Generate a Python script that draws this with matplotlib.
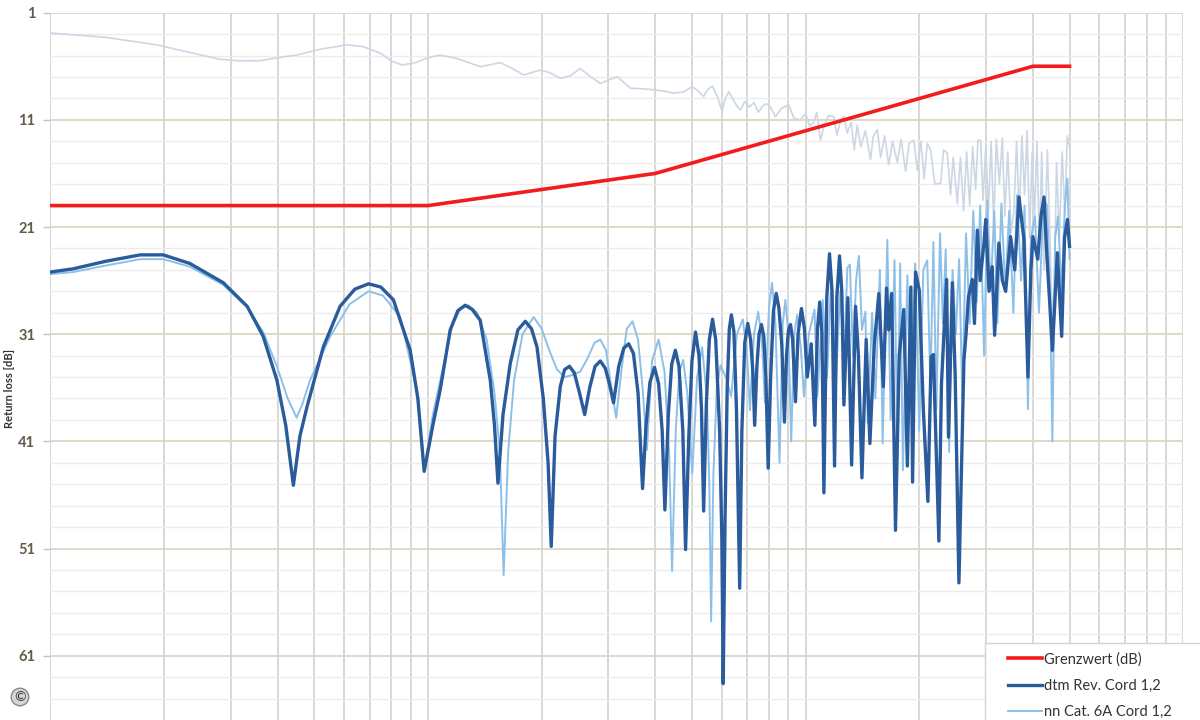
import matplotlib
matplotlib.use("Agg")
import matplotlib.pyplot as plt
from matplotlib.lines import Line2D
from matplotlib.patches import Rectangle

plt.rcParams['font.family'] = ['Lato', 'DejaVu Sans']

# Grenzwert (limit line), breakpoints in MHz / dB
limit_f = [1, 10, 40, 400, 500]
limit_db = [19, 19, 16, 6, 6]

# dtm Rev. Cord 1,2
dtm_f = [1.0, 1.15, 1.4, 1.73, 1.99, 2.34, 2.87, 3.32, 3.66, 3.98, 4.2, 4.4, 4.58, 4.78, 5.28, 5.85, 6.4, 6.96, 7.5, 8.1, 8.97, 9.4, 9.77,
         10.3, 10.77, 11.45, 12.0, 12.55, 13.1, 13.75, 14.62, 15.0, 15.32,
         15.8, 16.52, 17.3, 18.1, 18.8, 19.44, 20.2, 20.8, 21.2,
         21.7, 22.4, 23.0, 23.7, 24.4, 25.2, 26.0,
         26.8, 27.7, 28.6, 29.5, 30.3, 31.0,
         32.0, 33.0, 34.0, 35.0, 36.0, 37.0,
         37.8, 38.7, 39.8, 40.8, 41.7, 42.4,
         43.3, 44.2, 45.2, 46.2, 47.3, 48.1,
         49.0, 50.0, 51.1, 52.2, 53.0, 53.7,
         54.6, 55.6, 56.7, 57.8, 59.2, 60.0, 60.5,
         61.2, 62.0, 62.8, 63.6, 64.6, 65.6, 66.9,
         67.8, 69.0, 70.3, 71.5, 72.5, 73.3,
         74.3, 75.3, 76.4, 77.5, 78.5, 79.6,
         80.8, 82.2, 83.6, 85.0, 86.5, 87.9,
         89.0, 90.1, 91.2, 92.4, 94.0,
         95.5, 97.5, 99.3, 101, 103.5, 105.8, 107.5, 109, 110.5, 111.8, 113.8, 115.7, 117.5, 119.3,
         121, 123, 124.7, 126.3, 129.4, 132.4, 135.6, 138, 141, 144.7, 148, 152, 156.3, 160.6, 163.8,
         166, 169, 173, 177, 182, 186, 190, 192, 195.6, 200, 205, 210.8, 215, 218, 225.4, 229, 236.3,
         239, 244.7, 249, 254.7, 262.6, 266, 270, 276.4, 280, 285, 290, 296.7, 300, 306, 312, 316.7,
         325, 332, 338.7, 349, 358, 367.4, 378.7, 388, 395, 400, 412, 420, 427.9, 436, 443, 450.3,
         464.3, 476.6, 485, 493.6, 500]
dtm_db = [25.2, 24.9, 24.2, 23.6, 23.6, 24.4, 26.2, 28.4, 31.2, 35.3, 39.5, 45.1, 40.5, 37.8, 32.2, 28.4, 26.8, 26.3, 26.6, 27.8, 32.5, 37.0, 43.8,
          39.5, 36.2, 30.6, 28.8, 28.3, 28.7, 29.7, 35.3, 39.5, 44.9,
          38.5, 33.7, 30.6, 29.8, 30.5, 32.2, 37.0, 43.0, 50.8,
          40.5, 35.9, 34.3, 34.0, 34.6, 36.5, 38.5,
          36.0, 34.0, 33.5, 34.2, 35.8, 37.4,
          34.0, 32.3, 31.9, 32.8, 36.5, 45.4,
          39.5, 35.5, 34.1, 35.6, 40.0, 47.4,
          38.5, 33.8, 32.5, 34.0, 40.0, 51.1,
          41.0, 33.5, 30.8, 33.0, 38.0, 47.5,
          37.5, 31.5, 29.6, 31.5, 40.0, 50.0, 63.6,
          48.0, 36.0, 30.5, 29.2, 30.8, 38.0, 54.7,
          40.0, 31.8, 30.0, 31.5, 34.5, 39.5,
          34.0, 31.0, 30.1, 31.2, 35.0, 43.5,
          35.0, 28.8, 27.2, 28.6, 32.0, 39.2,
          33.0, 30.6, 30.1, 31.5, 37.3,
          31.0, 28.6, 30.5, 35.0, 31.9, 39.5, 30.5, 28.0, 31.0, 45.8, 27.5, 23.5, 27.0, 43.3,
          27.5, 23.7, 27.0, 37.6, 27.6, 43.2, 28.4, 33.0, 44.4, 31.5, 41.2, 32.0, 27.2, 35.9, 26.7,
          30.6, 27.2, 49.3, 33.0, 28.7, 43.3, 26.6, 44.8, 25.2, 26.9, 38.0, 46.6, 33.1, 32.9, 50.3, 35.6, 25.9,
          40.6, 26.2, 35.0, 54.2, 33.4, 31.0, 27.5, 25.9, 30.0, 21.3, 26.0, 22.5, 20.3, 27.0, 24.7, 31.1,
          22.5, 26.0, 27.0, 21.9, 25.0, 18.2, 22.2, 35.0, 25.0, 21.9, 24.0, 20.0, 18.2, 24.0, 28.0, 32.5,
          23.4, 31.2, 22.0, 20.3, 22.8]

# nn Cat. 6A Cord 1,2
nn_f = [1.0, 1.15, 1.4, 1.73, 1.99, 2.34, 2.87, 3.32, 3.66, 3.98, 4.25, 4.49, 4.65, 4.87, 5.51, 6.2, 6.96, 7.6, 8.44, 9.34, 9.77,
        10.3, 10.9, 11.6, 12.2, 12.8, 13.5, 14.3, 15.0, 15.5, 15.86, 16.3, 16.9, 17.8, 19.04, 20.0, 21.0, 21.96,
        23.0, 24.2, 25.3, 26.5, 27.6, 28.6, 29.6, 30.6, 31.5, 32.5, 33.6, 34.8, 36.0, 37.0, 38.0, 39.2, 40.8,
        42.3, 43.5, 44.3, 45.3, 46.3, 47.4, 48.6, 50.1, 51.6, 53.2, 54.8, 55.6, 56.2, 57.0, 58.2, 59.5, 61.5,
        63.5, 65.8, 68.2, 70.0, 71.2, 73.0, 74.9, 76.6, 78.0, 80.0, 81.5, 83.2, 85.3, 87.0, 88.4, 90.0, 91.6,
        93.3, 95.0, 97, 99.0, 102, 105.6, 107.5, 111, 114, 117, 120, 123.5, 126.5, 129, 131, 133.5, 136, 138.4,
        141, 144, 146, 150, 153, 157.3, 160, 164.6, 168, 172, 175, 178, 181, 186, 190, 195, 200, 205, 210, 214,
        218, 222, 227, 231, 235, 240, 245, 250, 255, 260, 266, 272, 278, 284, 290, 297, 303, 309, 316, 322, 330,
        338, 346, 355, 363, 372, 380, 388, 395, 405, 415, 427, 436, 444, 450.3, 458, 466, 476.6, 486, 493.6, 500]
nn_db = [25.4, 25.2, 24.6, 24.0, 24.0, 24.7, 26.4, 28.5, 30.8, 34.0, 37.0, 38.8, 37.5, 35.3, 31.2, 28.2, 27.0, 27.4, 29.4, 36.2, 43.7,
         38.5, 34.5, 30.2, 28.6, 28.3, 29.0, 31.5, 36.5, 42.0, 53.5, 42.0, 35.3, 31.0, 29.4, 30.5, 32.6, 34.3,
         35.0, 34.8, 34.5, 33.2, 31.8, 31.5, 32.5, 36.0, 38.8, 34.5, 30.5, 29.8, 31.5, 36.0, 41.8, 33.5, 31.5,
         34.5, 42.0, 53.1, 40.0, 34.5, 33.4, 36.5, 44.0, 35.0, 32.2, 37.0, 45.0, 57.8, 44.0, 36.0, 33.9, 35.0,
         36.8, 31.0, 29.6, 33.0, 38.1, 31.0, 28.9, 31.5, 37.4, 28.5, 26.2, 30.0, 43.0, 30.0, 27.8, 31.0, 41.0,
         31.0, 29.2, 32.0, 36.8, 31.0, 28.7, 36.8, 27.8, 35.0, 25.5, 36.0, 27.0, 33.0, 24.8, 24.5, 33.0, 26.0, 23.7,
         30.6, 28.9, 39.3, 29.0, 37.0, 25.0, 41.2, 22.2, 39.0, 24.1, 41.5, 24.4, 43.7, 25.5, 38.0, 24.4, 40.0, 25.0, 24.1, 36.0,
         22.4, 38.0, 21.6, 30.0, 23.1, 42.0, 25.0, 31.0, 24.0, 37.0, 21.6, 30.0, 19.5, 28.0, 19.0, 33.0, 18.5, 27.0, 19.5, 30.0, 18.8,
         27.0, 19.5, 29.0, 18.0, 26.0, 19.0, 38.0, 22.0, 20.0, 29.0, 18.2, 19.0, 27.0, 41.0, 22.0, 20.0, 27.0, 19.0, 16.5, 24.0]

# pale trace at the top (not in legend)
top_f = [1.0, 1.4, 1.91, 2.4, 2.81, 3.2, 3.59, 4.0, 4.49, 5.2, 6.1, 6.74, 7.5, 8.0, 8.53, 9.2, 10.0, 10.77, 12.0, 13.75,
         15.54, 16.7, 17.91, 19.84, 21.0, 22.4, 23.8, 25.3, 27.0, 28.6, 30.0, 31.7, 33.0, 34.4, 37.0, 39.6, 42.0, 44.7,
         47.5, 50.1, 52.0, 53.7, 55.0, 56.6, 58.5, 60.1, 61.3, 62.6, 64.5, 66.0, 67.2, 69.0, 71.0, 73, 75, 77, 78.8,
         80.7, 83.2, 86.5, 90.3, 93.1, 96.9, 100, 102.5, 105.1, 107, 109.5, 112, 115, 118.8, 121, 124, 126.3, 128.9,
         132, 134.5, 137.0, 140, 144, 148.6, 151, 154.8, 158, 162, 166, 170, 174.9, 179, 184, 188, 193.6, 197.6, 202,
         206, 210, 214.3, 220, 227.9, 232, 237.3, 242, 246, 252.2, 257, 262, 267, 272, 277, 282, 286, 290.7, 295, 300,
         305, 310, 315, 320, 326, 331.9, 337, 343, 350, 356.3, 362, 368, 374, 380, 386, 392, 398, 404, 410, 416, 422,
         428, 436.9, 443, 450, 456, 462, 470, 478, 486, 493, 500]
top_db = [2.9, 3.3, 4.0, 4.8, 5.35, 5.5, 5.48, 5.2, 4.95, 4.4, 4.0, 4.17, 4.8, 5.5, 5.88, 5.7, 5.2, 4.95, 5.3, 6.04,
          5.66, 6.2, 6.81, 6.35, 6.6, 7.12, 6.9, 6.2, 7.0, 7.6, 7.3, 6.97, 7.5, 8.05, 8.1, 8.2, 8.3, 8.5,
          8.4, 7.9, 8.3, 8.84, 8.2, 7.84, 8.9, 10.24, 9.0, 8.37, 9.2, 9.8, 10.08, 9.3, 9.8, 9.4, 10.3, 9.7, 9.5,
          9.77, 10.7, 9.9, 9.61, 10.85, 11.0, 10.4, 11.6, 11.2, 10.3, 12.9, 11.5, 10.6, 10.7, 12.4, 11.0, 10.7, 12.25,
          11.2, 13.8, 11.5, 13.5, 12.0, 14.7, 12.6, 11.9, 14.5, 12.5, 15.2, 13.0, 15.0, 12.8, 15.8, 13.2, 12.9, 15.7, 13.0,
          16.5, 13.2, 13.8, 17.0, 16.9, 13.8, 14.1, 18.0, 14.5, 18.8, 14.5, 19.5, 14.0, 19.0, 13.5, 17.5, 12.9, 12.9, 18.5, 13.5,
          19.5, 13.0, 21.0, 12.8, 17.0, 12.7, 20.0, 14.0, 21.5, 19.4, 13.0, 20.0, 12.5, 18.0, 12.0, 22.0, 14.0, 20.0, 13.0, 23.0, 14.0,
          25.0, 13.8, 21.0, 30.0, 26.0, 15.0, 22.0, 14.0, 20.0, 12.5, 13.5]

fig = plt.figure(figsize=(12, 7.2), dpi=100)
ax = fig.add_axes([0.042, 0.0, 0.944, 0.9824])

ax.plot(top_f, top_db, color='#ccd7e5', lw=1.2, zorder=2)
ax.plot(nn_f, nn_db, color='#8dc0e8', lw=1.4, zorder=3)
ax.plot(dtm_f, dtm_db, color='#2a5b9c', lw=2.4, zorder=4)
ax.plot(limit_f, limit_db, color='#f21c1c', lw=2.6, zorder=5)

ax.set_xscale('log')
ax.set_xlim(1, 1000)
ax.set_ylim(67.0, 1)

# grid
ax.set_xticks([1, 2, 3, 4, 5, 6, 7, 8, 9, 10, 20, 30, 40, 50, 60, 70, 80, 90, 100,
               200, 300, 400, 500, 600, 700, 800, 900, 1000])
ax.set_xticks([], minor=True)
ax.tick_params(axis='x', which='both', length=0, labelbottom=False)
ax.grid(axis='x', color='#d4d4d4', lw=1.3)

ax.set_yticks(range(1, 62, 10))
ax.set_yticks([v for v in range(3, 67, 2) if (v - 1) % 10 != 0], minor=True)
ax.grid(axis='y', which='major', color='#dcd5c4', lw=1.3)
ax.grid(axis='y', which='minor', color='#ececec', lw=1.0)
ax.tick_params(axis='y', which='major', length=5, width=1, color='#c4c4c4', pad=6,
               labelsize=10.5, labelcolor='#625b48')
ax.tick_params(axis='y', which='minor', length=0)
for lbl in ax.get_yticklabels():
    lbl.set_fontweight('bold')
ax.set_axisbelow(True)
for s in ax.spines.values():
    s.set_visible(False)

fig.text(10 / 1200, 1 - 388 / 720, 'Return loss [dB]', rotation=90, ha='center', va='center',
         fontsize=8, fontweight='bold', color='#333333')

# copyright mark
fig.text(20 / 1200, 1 - 697 / 720, '©', ha='center', va='center', fontsize=10, color='#333333',
         bbox=dict(boxstyle='circle,pad=0.2', fc='#d6d6d6', ec='#8a8a8a', lw=1))

# legend box (runs off the lower right corner like in the source)
fig.patches.append(Rectangle((985 / 1200, -0.05), 0.2, 0.05 + (720 - 643) / 720,
                             transform=fig.transFigure, fc='white', ec='#d4d4d4', lw=1, zorder=4))
handles = [Line2D([], [], color='#f21c1c', lw=2.6),
           Line2D([], [], color='#2a5b9c', lw=2.4),
           Line2D([], [], color='#8dc0e8', lw=1.4)]
labels = ['Grenzwert (dB)', 'dtm Rev. Cord 1,2', 'nn Cat. 6A Cord 1,2']
leg = fig.legend(handles, labels, loc='upper left',
                 bbox_to_anchor=(1000 / 1200, 1 - 644 / 720),
                 fontsize=10.5, frameon=False, handlelength=2.3, handletextpad=0.15,
                 labelspacing=0.85, borderpad=0.55, borderaxespad=0)
for t in leg.get_texts():
    t.set_color('#333333')
leg.set_zorder(5)

fig.savefig('out.png', dpi=100)
